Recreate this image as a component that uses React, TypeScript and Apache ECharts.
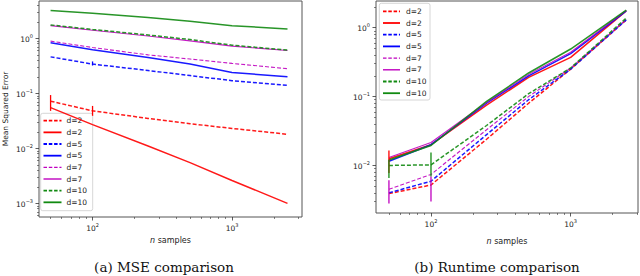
import React, { useEffect, useRef } from "react";
import * as echarts from "echarts";

// ---- data ----
const nSamples = [50, 100, 250, 500, 1000, 2500];
const seriesLabels = ["d=2", "d=2", "d=5", "d=5", "d=7", "d=7", "d=10", "d=10"];
const seriesColors = ["#ff0000", "#ff0000", "#0000ff", "#0000ff", "#bf00bf", "#bf00bf", "#118a11", "#118a11"];
const seriesDashed = [true, false, true, false, true, false, true, false];
const seriesWidths = [1.5, 1.5, 1.5, 1.5, 1.1, 1.1, 1.5, 1.5];

// MSE (left)
const mseD2Dash = [0.072, 0.048, 0.035, 0.028, 0.023, 0.018];
const mseD2Solid = [0.055, 0.027, 0.011, 0.0055, 0.0026, 0.001];
const mseD5Dash = [0.46, 0.34, 0.26, 0.21, 0.17, 0.14];
const mseD5Solid = [0.83, 0.62, 0.45, 0.34, 0.24, 0.2];
const mseD7Dash = [0.89, 0.68, 0.5, 0.42, 0.35, 0.28];
const mseD7Solid = [1.7, 1.4, 1.1, 0.9, 0.72, 0.6];
const mseD10Dash = [1.75, 1.45, 1.15, 0.95, 0.75, 0.61];
const mseD10Solid = [3.2, 2.85, 2.4, 2.05, 1.7, 1.48];
const mseSeries = [mseD2Dash, mseD2Solid, mseD5Dash, mseD5Solid, mseD7Dash, mseD7Solid, mseD10Dash, mseD10Solid];

// Runtime (right)
const rtD2Dash = [0.0039, 0.0052, 0.024, 0.08, 0.25, 1.3];
const rtD2Solid = [0.0125, 0.02, 0.075, 0.19, 0.37, 1.75];
const rtD5Dash = [0.004, 0.0059, 0.028, 0.09, 0.25, 1.3];
const rtD5Solid = [0.0115, 0.02, 0.08, 0.2, 0.42, 1.75];
const rtD7Dash = [0.0045, 0.0074, 0.033, 0.1, 0.26, 1.32];
const rtD7Solid = [0.013, 0.0215, 0.082, 0.21, 0.44, 1.78];
const rtD10Dash = [0.01, 0.0102, 0.038, 0.11, 0.26, 1.38];
const rtD10Solid = [0.012, 0.0195, 0.085, 0.22, 0.49, 1.8];
const rtSeries = [rtD2Dash, rtD2Solid, rtD5Dash, rtD5Solid, rtD7Dash, rtD7Solid, rtD10Dash, rtD10Solid];

// error bars [x, low, high]
const mseErrRed = [[50, 0.048, 0.093], [100, 0.039, 0.059]];
const mseErrBlue = [[100, 0.32, 0.38]];
const rtErrRed = [[50, 0.0078, 0.0165]];
const rtErrGreen = [[50, 0.0066, 0.0121], [100, 0.0069, 0.0154]];
const rtErrMagenta = [[50, 0.0028, 0.0061], [100, 0.003, 0.0069]];

const captionA = "(a) MSE comparison";
const captionB = "(b) Runtime comparison";

function minorValues(lo: number, hi: number): number[] {
  const out: number[] = [];
  for (let e = lo; e <= hi; e++) {
    for (let m = 2; m <= 9; m++) out.push(m * Math.pow(10, e));
  }
  return out;
}

const supFmt = (v: number) => {
  const e = Math.round(Math.log10(v));
  const s = e < 0 ? "\u2212" + -e : String(e);
  return "{b|10}{s|" + s + "}";
};
const supRich = {
  b: { fontSize: 7.5, color: "#222", fontFamily: "DejaVu Sans", lineHeight: 10, verticalAlign: "bottom" },
  s: { fontSize: 5, color: "#222", fontFamily: "DejaVu Sans", lineHeight: 10, verticalAlign: "top" },
};

function makeLegend(x0: number, y0: number, w: number, h: number, rowY: number, gap: number, lx: number, lw: number, tx: number) {
  const children: any[] = [
    { type: "rect", shape: { x: x0, y: y0, width: w, height: h, r: 2 }, style: { fill: "rgba(255,255,255,0.8)", stroke: "#cccccc", lineWidth: 0.8 } },
  ];
  seriesLabels.forEach((lab, i) => {
    const y = rowY + i * gap;
    children.push({
      type: "line",
      shape: { x1: lx, y1: y, x2: lx + lw, y2: y },
      style: { stroke: seriesColors[i], lineWidth: seriesWidths[i] + 0.3, lineDash: seriesDashed[i] ? [3.5, 1.8] : null },
    });
    children.push({
      type: "text",
      x: tx,
      y: y,
      style: { text: lab, fontSize: 7.5, fontFamily: "DejaVu Sans", fill: "#222", verticalAlign: "middle", align: "left" },
    });
  });
  return { type: "group", children };
}

export default function App() {
  const ref = useRef<HTMLDivElement>(null);
  useEffect(() => {
    if (!ref.current) return;
    const chart = echarts.init(ref.current, null, { renderer: "svg" });

    const xMinL = 41.3, xMaxL = 3177, yMinL = 5.64e-4, yMaxL = 4.77;
    const xMinR = 40.4, xMaxR = 3034, yMinR = 0.00204, yMaxR = 2.44;

    const baseAxis = (min: number, max: number) => ({
      type: "log" as const,
      logBase: 10,
      min,
      max,
      splitLine: { show: false },
      axisLine: { show: false },
      axisTick: { show: true, length: 3.5, lineStyle: { color: "#333", width: 0.8 } },
      axisLabel: { formatter: supFmt, rich: supRich, showMinLabel: false, showMaxLabel: false, margin: 5 },
    });
    const minorAxis = (min: number, max: number, vals: number[]) => ({
      type: "log" as const,
      logBase: 10,
      min,
      max,
      splitLine: { show: false },
      axisLine: { show: false },
      axisLabel: { show: false },
      axisTick: { show: true, length: 2, customValues: vals, lineStyle: { color: "#333", width: 0.6 } },
    });

    const xAxis: any[] = [
      { ...baseAxis(xMinL, xMaxL), gridIndex: 0, name: "{i|n} samples", nameLocation: "middle", nameGap: 19,
        nameTextStyle: { fontSize: 8, fontFamily: "DejaVu Sans", color: "#222", rich: { i: { fontStyle: "italic", fontSize: 8, fontFamily: "DejaVu Sans" } } } },
      { ...minorAxis(xMinL, xMaxL, minorValues(1, 3)), gridIndex: 0, position: "bottom" },
      { ...baseAxis(xMinR, xMaxR), gridIndex: 1, name: "{i|n} samples", nameLocation: "middle", nameGap: 24,
        nameTextStyle: { fontSize: 8, fontFamily: "DejaVu Sans", color: "#222", rich: { i: { fontStyle: "italic", fontSize: 8, fontFamily: "DejaVu Sans" } } } },
      { ...minorAxis(xMinR, xMaxR, minorValues(1, 3)), gridIndex: 1, position: "bottom" },
    ];
    const yAxis: any[] = [
      { ...baseAxis(yMinL, yMaxL), gridIndex: 0, axisLabel: { ...baseAxis(yMinL, yMaxL).axisLabel, margin: 6 },
        name: "Mean Squared Error", nameLocation: "middle", nameGap: 30, nameRotate: 90,
        nameTextStyle: { fontSize: 7.5, fontFamily: "DejaVu Sans", color: "#222" } },
      { ...minorAxis(yMinL, yMaxL, minorValues(-4, 0)), gridIndex: 0, position: "left" },
      { ...baseAxis(yMinR, yMaxR), gridIndex: 1, axisLabel: { ...baseAxis(yMinR, yMaxR).axisLabel, margin: 6 } },
      { ...minorAxis(yMinR, yMaxR, minorValues(-3, 0)), gridIndex: 1, position: "left" },
    ];

    const lineSeries = (data: number[], i: number, xi: number, yi: number) => ({
      type: "line",
      xAxisIndex: xi,
      yAxisIndex: yi,
      data: nSamples.map((x, k) => [x, data[k]]),
      showSymbol: false,
      symbol: "none",
      silent: true,
      lineStyle: { color: seriesColors[i], width: seriesWidths[i], type: seriesDashed[i] ? [4, 2] : "solid", opacity: 0.9 },
      z: 2 + i,
    });
    const errSeries = (data: number[][], color: string, xi: number, yi: number) => ({
      type: "custom",
      xAxisIndex: xi,
      yAxisIndex: yi,
      data,
      silent: true,
      z: 20,
      renderItem: (params: any, api: any) => {
        const p1 = api.coord([api.value(0), api.value(1)]);
        const p2 = api.coord([api.value(0), api.value(2)]);
        return { type: "line", shape: { x1: p1[0], y1: p1[1], x2: p2[0], y2: p2[1] }, style: { stroke: color, lineWidth: 1.3 } };
      },
      encode: { x: 0, y: [1, 2] },
    });

    const series: any[] = [];
    mseSeries.forEach((d, i) => series.push(lineSeries(d, i, 0, 0)));
    rtSeries.forEach((d, i) => series.push(lineSeries(d, i, 2, 2)));
    series.push(errSeries(mseErrRed, "#ff0000", 0, 0));
    series.push(errSeries(mseErrBlue, "#0000ff", 0, 0));
    series.push(errSeries(rtErrRed, "#ff0000", 2, 2));
    series.push(errSeries(rtErrGreen, "#118a11", 2, 2));
    series.push(errSeries(rtErrMagenta, "#bf00bf", 2, 2));

    chart.setOption({
      animation: false,
      grid: [
        { left: 38, right: 338, top: 1, bottom: 59, show: true, borderColor: "#555", borderWidth: 1, backgroundColor: "transparent" },
        { left: 376, right: 2, top: 1, bottom: 63, show: true, borderColor: "#555", borderWidth: 1, backgroundColor: "transparent" },
      ],
      xAxis,
      yAxis,
      series,
      graphic: [
        makeLegend(40.7, 113.3, 52, 97.4, 120.7, 11.66, 43.5, 18, 66.5),
        makeLegend(379.3, 3.3, 50.7, 96.7, 11.3, 11.7, 383, 17, 406),
        { type: "text", x: 164, y: 267, style: { text: captionA, fontSize: 13.5, fontFamily: "DejaVu Serif", fill: "#111", align: "center", verticalAlign: "middle" } },
        { type: "text", x: 497, y: 267, style: { text: captionB, fontSize: 13.5, fontFamily: "DejaVu Serif", fill: "#111", align: "center", verticalAlign: "middle" } },
      ],
    });
    return () => chart.dispose();
  }, []);
  return <div ref={ref} style={{ position: "absolute", left: 0, top: 0, width: 640, height: 276, background: "#fff" }} />;
}
